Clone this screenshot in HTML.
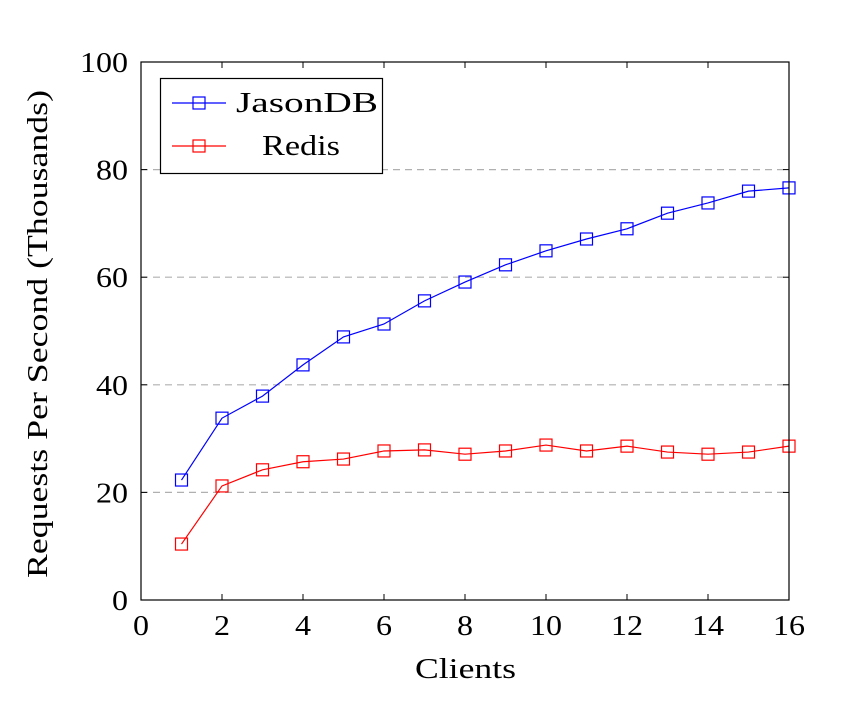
<!DOCTYPE html>
<html><head><meta charset="utf-8"><style>
html,body{margin:0;padding:0;background:#fff;}
svg{display:block;font-family:"Liberation Serif",serif;}
</style></head><body>
<svg id="chart" width="844" height="720" viewBox="0 0 844 720">
<g id="grid"></g>
<g id="series"></g>
<g id="axes"></g>
<text x="415" y="678" font-size="28" textLength="101" lengthAdjust="spacingAndGlyphs">Clients</text>
<text transform="translate(47,578) rotate(-90)" font-size="28" textLength="488" lengthAdjust="spacingAndGlyphs">Requests Per Second (Thousands)</text>
<g>
<rect x="160.5" y="78.5" width="222" height="95" fill="#fff" stroke="#000" stroke-width="1.2"/>
<g>
<line x1="172" y1="103" x2="226" y2="103" stroke="#0000ff" stroke-width="1.2"/>
<rect x="193" y="97" width="12" height="12" fill="none" stroke="#0000ff" stroke-width="1.2"/>
<text x="236" y="112" font-size="28" textLength="142" lengthAdjust="spacingAndGlyphs">JasonDB</text></g>
<g>
<line x1="172" y1="146" x2="226" y2="146" stroke="#ff0000" stroke-width="1.2"/>
<rect x="193" y="140" width="12" height="12" fill="none" stroke="#ff0000" stroke-width="1.2"/>
<text x="262" y="155" font-size="28" textLength="78" lengthAdjust="spacingAndGlyphs">Redis</text></g>
</g>
</svg>
<script>
const clients=[1,2,3,4,5,6,7,8,9,10,11,12,13,14,15,16];
const jasondb=[22.3,33.8,37.9,43.7,48.9,51.3,55.6,59.1,62.3,64.9,67.1,69.0,71.9,73.8,76.0,76.6];
const redis=[10.4,21.2,24.2,25.7,26.2,27.7,27.9,27.1,27.7,28.8,27.7,28.6,27.5,27.1,27.5,28.6];
const xTicks=[0,2,4,6,8,10,12,14,16];
const yTicks=[0,20,40,60,80,100];
const X0=141,X1=789,Y0=600,Y1=62;
const xs=v=>X0+(v-0)/16*(X1-X0);
const ys=v=>Y0-(v/100)*(Y0-Y1);
const NS="http://www.w3.org/2000/svg";
function mk(tag,attrs,parent){const e=document.createElementNS(NS,tag);for(const k in attrs)e.setAttribute(k,attrs[k]);parent.appendChild(e);return e;}
const grid=document.getElementById('grid'),axes=document.getElementById('axes'),ser=document.getElementById('series');
yTicks.forEach(t=>{if(t>0&&t<100){const l=mk('line',{x1:X0,x2:X1,y1:ys(t),y2:ys(t),stroke:'#b0b0b0','stroke-width':1.2,'stroke-dasharray':'7,5'},grid);

}});
const fr=mk('rect',{x:X0,y:Y1,width:X1-X0,height:Y0-Y1,fill:'none',stroke:'#000','stroke-width':1.2},axes);


xTicks.forEach(t=>{const x=xs(t);
mk('line',{x1:x,x2:x,y1:Y0,y2:Y0-6,stroke:'#000','stroke-width':1},axes);
mk('line',{x1:x,x2:x,y1:Y1,y2:Y1+6,stroke:'#000','stroke-width':1},axes);
const w=String(t).length*16;
const tx=mk('text',{x:x-w/2,y:Y0+35,'font-size':28,textLength:w,lengthAdjust:'spacingAndGlyphs'},axes);tx.textContent=t;

});
yTicks.forEach(t=>{const y=ys(t);
mk('line',{x1:X0,x2:X0+6,y1:y,y2:y,stroke:'#000','stroke-width':1},axes);
mk('line',{x1:X1,x2:X1-6,y1:y,y2:y,stroke:'#000','stroke-width':1},axes);
const w=String(t).length*16;
const tx=mk('text',{x:X0-13-w,y:y+10,'font-size':28,textLength:w,lengthAdjust:'spacingAndGlyphs'},axes);tx.textContent=t;

});
function draw(vals,color,name){
const g=mk('g',{},ser);


const pl=mk('polyline',{points:clients.map((c,i)=>xs(c)+','+ys(vals[i])).join(' '),fill:'none',stroke:color,'stroke-width':1.2},g);


clients.forEach((c,i)=>{const r=mk('rect',{x:xs(c)-6,y:ys(vals[i])-6,width:12,height:12,fill:'none',stroke:color,'stroke-width':1.2},g);

});
}
draw(jasondb,'#0000ff','jasondb');
draw(redis,'#ff0000','redis');
</script>
</body></html>
